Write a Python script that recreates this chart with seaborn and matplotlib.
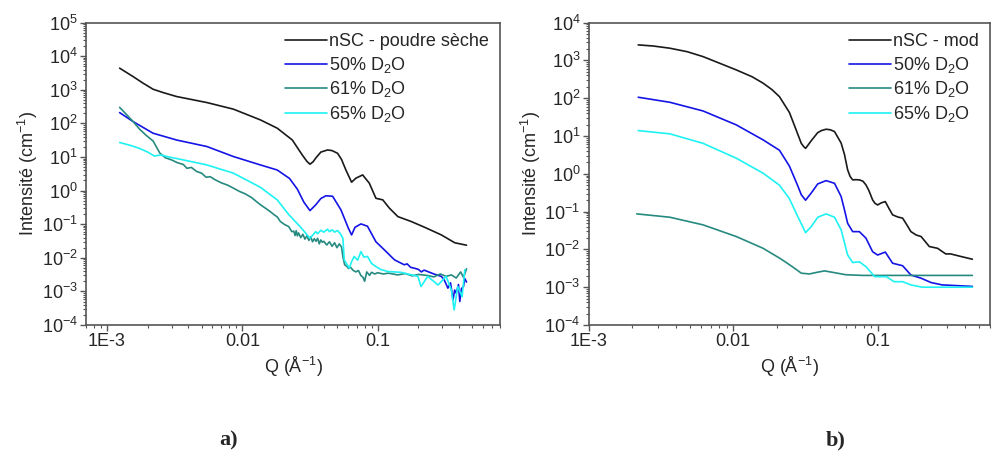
import matplotlib
matplotlib.use("Agg")
import matplotlib.pyplot as plt
import matplotlib.ticker as mticker
import seaborn as sns

# ---- panel a) measured curves ----
q_a_nsc = [1.24e-3, 1.56e-3, 1.85e-3, 2.19e-3, 2.6e-3, 3.27e-3, 5.47e-3, 8.6e-3, 0.0136, 0.0181, 0.0234, 0.0277,
           0.0300, 0.0316, 0.0333, 0.0348, 0.038, 0.0426, 0.046, 0.0505, 0.054, 0.0582, 0.0641,
           0.069, 0.0774, 0.0867, 0.097, 0.109, 0.122, 0.141, 0.177, 0.222, 0.295, 0.371, 0.453]
i_a_nsc = [4400, 2470, 1570, 1040, 826, 630, 417, 265, 127, 72, 32, 11.5,
           7.4, 6.1, 7.2, 9.2, 14, 16.2, 15.5, 12.9, 8.5, 4.1, 1.78,
           2.34, 2.93, 1.66, 0.59, 0.53, 0.30, 0.168, 0.12, 0.081, 0.048, 0.028, 0.0237]

q_a_50 = [1.24e-3, 1.56e-3, 2.19e-3, 3.27e-3, 5.47e-3, 8.6e-3, 0.0136, 0.0181, 0.0223, 0.0255,
          0.0285, 0.0316, 0.0348, 0.038, 0.0414, 0.0464, 0.0535, 0.0607, 0.0641, 0.068, 0.0752,
          0.084, 0.097, 0.112, 0.133, 0.157, 0.165, 0.175, 0.187, 0.20, 0.21, 0.22, 0.234, 0.26,
          0.295, 0.31, 0.33, 0.345, 0.36, 0.37, 0.38, 0.395, 0.404, 0.415, 0.43, 0.44, 0.453]
i_a_50 = [210, 113, 51, 32, 20.5, 10.3, 5.8, 4.1, 2.3, 1.1,
          0.45, 0.254, 0.375, 0.58, 0.70, 0.68, 0.267, 0.076, 0.048, 0.081, 0.102,
          0.087, 0.030, 0.0172, 0.0087, 0.0062, 0.0066, 0.0052, 0.0049, 0.0045, 0.0038, 0.0043, 0.0039, 0.0033,
          0.0028, 0.0022, 0.00125, 0.0018, 0.00056, 0.0011, 0.00089, 0.0016, 0.0005, 0.0012, 0.0014, 0.0024, 0.0019]

q_a_61 = [1.24e-3, 1.4e-3, 1.56e-3, 1.75e-3, 1.95e-3, 2.19e-3, 2.46e-3, 2.7e-3, 3.0e-3, 3.3e-3,
          3.66e-3, 3.9e-3, 4.2e-3, 4.6e-3, 5.0e-3, 5.4e-3, 5.78e-3, 6.3e-3, 7.0e-3, 7.8e-3,
          8.6e-3, 9.5e-3, 0.0105, 0.0117, 0.0128, 0.0136, 0.0148, 0.016, 0.0172, 0.0181,
          0.0191, 0.0205, 0.022, 0.0232,
          0.024, 0.0245, 0.025, 0.0255, 0.026, 0.027, 0.028, 0.029, 0.030, 0.031, 0.032, 0.033,
          0.034, 0.035, 0.036, 0.037, 0.038, 0.039, 0.040, 0.042, 0.044, 0.046, 0.048, 0.050,
          0.052, 0.054, 0.0555, 0.057, 0.059, 0.061, 0.063, 0.066, 0.069, 0.072, 0.075, 0.078,
          0.080, 0.083, 0.087, 0.090, 0.095, 0.10, 0.11, 0.12, 0.14, 0.16, 0.18, 0.20, 0.23,
          0.26, 0.29, 0.32, 0.35, 0.38, 0.41, 0.43, 0.453]
i_a_61 = [300, 180, 113, 66, 44, 30, 13, 9.5, 8.2, 6.8,
          6.0, 4.6, 4.9, 3.7, 3.3, 2.5, 2.6, 2.1, 1.7, 1.45,
          1.18, 0.95, 0.80, 0.62, 0.46, 0.38, 0.30, 0.24, 0.19, 0.165,
          0.12, 0.098, 0.085, 0.060,
          0.062, 0.046, 0.064, 0.045, 0.055, 0.040, 0.050, 0.036, 0.045, 0.033, 0.042, 0.030,
          0.037, 0.031, 0.038, 0.026, 0.034, 0.029, 0.031, 0.024, 0.030, 0.022, 0.028, 0.020,
          0.026, 0.021, 0.010, 0.0062, 0.0056, 0.0048, 0.0052, 0.0042, 0.0038, 0.0042, 0.0030, 0.0026,
          0.0020, 0.0038, 0.0030, 0.0037, 0.0033, 0.0036, 0.0033, 0.0035, 0.0031, 0.0034, 0.0029, 0.0032,
          0.0030, 0.0027, 0.0033, 0.0028, 0.0031, 0.0025, 0.0038, 0.0026, 0.0047]

q_a_65 = [1.24e-3, 1.5e-3, 1.74e-3, 2.0e-3, 2.24e-3, 2.5e-3, 2.8e-3, 3.66e-3, 5.47e-3, 8.6e-3,
          0.0136, 0.0181, 0.0221, 0.0267, 0.0316, 0.0335, 0.0348, 0.036, 0.038, 0.040, 0.0426,
          0.044, 0.046, 0.048, 0.0504, 0.053, 0.0553, 0.0566, 0.0617, 0.064, 0.067, 0.071, 0.0752,
          0.079, 0.084, 0.09, 0.097, 0.105, 0.119, 0.148, 0.198, 0.209, 0.234, 0.279, 0.32, 0.35,
          0.367, 0.39, 0.42, 0.44]
i_a_65 = [27, 22, 18, 14, 10.7, 11.5, 10.2, 8.2, 5.8, 3.3,
          1.25, 0.53, 0.19, 0.085, 0.038, 0.050, 0.060, 0.052, 0.066, 0.058, 0.071,
          0.060, 0.068, 0.058, 0.065, 0.052, 0.038, 0.0087, 0.0049, 0.0075, 0.011, 0.0085, 0.0153,
          0.0105, 0.011, 0.0068, 0.0055, 0.0045, 0.0039, 0.0037, 0.0028, 0.0014, 0.0028, 0.00155, 0.0028, 0.0011,
          0.00028, 0.0014, 0.0007, 0.0044]

# ---- panel b) model curves ----
q_b_nsc = [2.2e-3, 2.8e-3, 3.64e-3, 4.8e-3, 6.18e-3, 8e-3, 0.0105, 0.0135, 0.0161, 0.0185, 0.0209,
           0.0245, 0.0273, 0.0296, 0.0307,
           0.0317, 0.0327, 0.0347, 0.0385, 0.041, 0.044, 0.047, 0.0503, 0.0559, 0.059, 0.062,
           0.0645, 0.0672, 0.0705, 0.0747, 0.079, 0.083, 0.087, 0.0923, 0.096, 0.1, 0.106, 0.113,
           0.12, 0.127, 0.138, 0.149, 0.158, 0.17, 0.185, 0.2, 0.228, 0.26, 0.296, 0.32, 0.377, 0.453]
i_b_nsc = [2570, 2400, 2100, 1700, 1260, 850, 560, 370, 250, 170, 110,
           42, 14.4, 6.4, 5.3,
           4.7, 5.5, 7.5, 12.3, 14, 15.1, 14.6, 13.1, 6.5, 3.2, 1.27,
           0.85, 0.69, 0.70, 0.69, 0.64, 0.51, 0.36, 0.204, 0.165, 0.15, 0.17, 0.184,
           0.12, 0.082, 0.072, 0.067, 0.047, 0.0295, 0.024, 0.0219, 0.0119, 0.0107, 0.0076, 0.0076, 0.0065, 0.0055]

q_b_50 = [2.2e-3, 3.64e-3, 6.18e-3, 0.0105, 0.0161, 0.0209, 0.0245, 0.028, 0.0296, 0.0317,
          0.0347, 0.0385, 0.044, 0.0503, 0.0559, 0.059, 0.062, 0.0672, 0.0747, 0.083, 0.0923,
          0.1, 0.113, 0.127, 0.149, 0.17, 0.2, 0.234, 0.28, 0.453]
i_b_50 = [106, 78, 46, 19.7, 7.9, 4.2, 1.6, 0.48, 0.28, 0.2,
          0.31, 0.54, 0.66, 0.56, 0.25, 0.11, 0.049, 0.0295, 0.0295, 0.0199, 0.0087,
          0.0071, 0.0085, 0.0043, 0.0037, 0.0021, 0.00173, 0.00133, 0.00115, 0.00105]

q_b_61 = [2.15e-3, 3.64e-3, 6.18e-3, 0.0105, 0.0161, 0.0209, 0.0233, 0.0265, 0.0296, 0.0337,
          0.0385, 0.0429, 0.051, 0.060, 0.0785, 0.453]
i_b_61 = [0.087, 0.071, 0.0446, 0.0219, 0.0107, 0.0059, 0.0045, 0.0032, 0.00235, 0.00224,
          0.0025, 0.0027, 0.0024, 0.00214, 0.00205, 0.00205]

q_b_65 = [2.2e-3, 3.64e-3, 6.18e-3, 0.0105, 0.0161, 0.0209, 0.0245, 0.028, 0.0317, 0.0347,
          0.0385, 0.044, 0.0503, 0.0559, 0.062, 0.0672, 0.0747, 0.083, 0.0955, 0.102, 0.115,
          0.13, 0.149, 0.17, 0.204, 0.453]
i_b_65 = [13.9, 11.4, 6.4, 2.59, 1.04, 0.5, 0.22, 0.074, 0.0278, 0.04,
          0.071, 0.087, 0.071, 0.033, 0.0071, 0.0045, 0.0047, 0.0035, 0.0019, 0.0019, 0.0019,
          0.0014, 0.0014, 0.00115, 0.001, 0.001]

labels_a = ["nSC - poudre sèche", "50% D$_2$O", "61% D$_2$O", "65% D$_2$O"]
labels_b = ["nSC - mod", "50% D$_2$O", "61% D$_2$O", "65% D$_2$O"]
colors = ["#1a1a1a", "#1414e6", "#268a80", "#1ef2f2"]

sns.set_style("ticks")
plt.rcParams["font.family"] = ["Liberation Sans", "DejaVu Sans"]
plt.rcParams["mathtext.fontset"] = "custom"
plt.rcParams["mathtext.rm"] = "Liberation Sans"
plt.rcParams["mathtext.it"] = "Liberation Sans:italic"
plt.rcParams["font.size"] = 13

fig = plt.figure(figsize=(9.92, 4.61), dpi=100)
ax_a = fig.add_axes([0.0867, 0.295, 0.4173, 0.656])
ax_b = fig.add_axes([0.5935, 0.295, 0.4045, 0.656])

panels = [
    (ax_a, [(q_a_nsc, i_a_nsc), (q_a_50, i_a_50), (q_a_61, i_a_61), (q_a_65, i_a_65)], labels_a,
     (7e-4, 0.8), (1e-4, 1e5)),
    (ax_b, [(q_b_nsc, i_b_nsc), (q_b_50, i_b_50), (q_b_61, i_b_61), (q_b_65, i_b_65)], labels_b,
     (1e-3, 0.6), (1e-4, 1e4)),
]

for ax, series, labels, xlim, ylim in panels:
    for (q, i), lab, c in zip(series, labels, colors):
        sns.lineplot(x=q, y=i, ax=ax, color=c, label=lab, lw=1.2, estimator=None, sort=False)
    ax.set_xscale("log")
    ax.set_yscale("log")
    ax.set_xlim(*xlim)
    ax.set_ylim(*ylim)
    ax.xaxis.set_major_locator(mticker.FixedLocator([1e-3, 1e-2, 1e-1]))
    ax.xaxis.set_major_formatter(mticker.FixedFormatter(["1E-3", "0.01", "0.1"]))
    ax.xaxis.set_minor_locator(mticker.LogLocator(base=10, subs=range(2, 10), numticks=20))
    ax.xaxis.set_minor_formatter(mticker.NullFormatter())
    ax.yaxis.set_major_locator(mticker.LogLocator(base=10, numticks=20))
    ax.yaxis.set_minor_locator(mticker.LogLocator(base=10, subs=range(2, 10), numticks=20))
    ax.yaxis.set_minor_formatter(mticker.NullFormatter())
    ax.tick_params(which="major", direction="out", length=4, width=1, color="#555555",
                   labelsize=13, pad=2)
    ax.tick_params(which="minor", direction="out", length=2, width=0.8, color="#555555")
    for s in ax.spines.values():
        s.set_color("#555555")
        s.set_linewidth(1.2)
    ax.set_xlabel("Q (Å$^{-1}$)", fontsize=13, labelpad=3)
    ax.set_ylabel("Intensité (cm$^{-1}$)", fontsize=13, labelpad=1)
    ax.legend(loc="upper right", frameon=False, fontsize=13, handlelength=2.3,
              handletextpad=0.15, labelspacing=0.25, borderaxespad=0.2)

fig.text(0.23, 0.045, "a)", ha="center", va="center", fontsize=16, fontweight="bold",
         family="Liberation Serif")
fig.text(0.842, 0.045, "b)", ha="center", va="center", fontsize=16, fontweight="bold",
         family="Liberation Serif")

fig.savefig("out.png", dpi=100)
